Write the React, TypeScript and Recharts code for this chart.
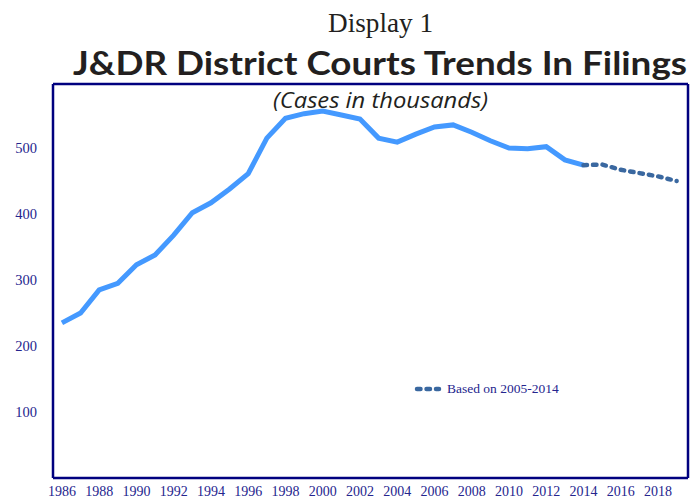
import React from 'react';
import { LineChart, Line, XAxis, YAxis, Legend } from 'recharts';

const years = [1986, 1987, 1988, 1989, 1990, 1991, 1992, 1993, 1994, 1995, 1996, 1997, 1998, 1999, 2000, 2001, 2002, 2003, 2004, 2005, 2006, 2007, 2008, 2009, 2010, 2011, 2012, 2013, 2014, 2015, 2016, 2017, 2018, 2019];
const actualFilings = [235, 250, 285, 295, 323, 338, 368, 402, 417, 438, 461, 515, 545, 552, 556, 550, 544, 515, 509, 521, 532, 535, 524, 511, 500, 499, 502, 482, 474];
const projectedYears = [2014, 2015, 2016, 2017, 2018, 2019];
const projectedFilings = [474, 475, 467, 462, 457, 450];
const xTicks = [1986, 1988, 1990, 1992, 1994, 1996, 1998, 2000, 2002, 2004, 2006, 2008, 2010, 2012, 2014, 2016, 2018];
const yTicks = [100, 200, 300, 400, 500];

const data = years.map((year, i) => {
  const pi = projectedYears.indexOf(year);
  return {
    year,
    actual: i < actualFilings.length ? actualFilings[i] : null,
    projected: pi >= 0 ? projectedFilings[pi] : null,
  };
});

const NAVY = '#00007f';
const TICK = '#25258e';
const ACTUAL = '#4499ff';
const PROJ = '#3a68a0';
const X_DOMAIN: [number, number] = [1985.52, 2019.61];
const Y_DOMAIN: [number, number] = [0, 597];

const tickStyle = { fontFamily: '"Liberation Serif", "Times New Roman", serif', fill: TICK };

const LegendContent = () => (
  <div style={{ display: 'flex', alignItems: 'center', whiteSpace: 'nowrap' }}>
    <svg width={30} height={10} style={{ display: 'block' }}>
      <line x1={3} y1={5} x2={25} y2={5} stroke={PROJ} strokeWidth={4.5} strokeDasharray="3.5 6" strokeLinecap="round" />
    </svg>
    <span style={{ fontFamily: '"Liberation Serif", serif', fontSize: 13.5, color: TICK, marginLeft: 3 }}>Based on 2005-2014</span>
  </div>
);

export default function App() {
  return (
    <div style={{ position: 'absolute', left: 0, top: 0, width: 695, height: 499, background: '#fff' }}>
      <LineChart width={695} height={499} data={data} margin={{ top: 0, right: 0, bottom: 0, left: 0 }}>
        <XAxis
          dataKey="year"
          type="number"
          domain={X_DOMAIN}
          ticks={xTicks}
          interval={0}
          height={21}
          tickSize={0}
          tickMargin={8}
          tick={{ ...tickStyle, fontSize: 14 }}
          axisLine={{ stroke: NAVY, strokeWidth: 2.5 }}
          allowDataOverflow
        />
        <XAxis
          xAxisId="top"
          orientation="top"
          dataKey="year"
          type="number"
          domain={X_DOMAIN}
          height={84}
          tick={false}
          tickLine={false}
          axisLine={{ stroke: NAVY, strokeWidth: 2.5 }}
          allowDataOverflow
        />
        <YAxis
          type="number"
          domain={Y_DOMAIN}
          ticks={yTicks}
          width={53}
          tickSize={0}
          tickMargin={16}
          tick={{ ...tickStyle, fontSize: 14.5 }}
          axisLine={{ stroke: NAVY, strokeWidth: 2.5 }}
          allowDataOverflow
        />
        <YAxis
          yAxisId="right"
          orientation="right"
          type="number"
          domain={Y_DOMAIN}
          width={7}
          tick={false}
          tickLine={false}
          axisLine={{ stroke: NAVY, strokeWidth: 2.5 }}
          allowDataOverflow
        />
        <Legend
          layout="vertical"
          align="center"
          verticalAlign="middle"
          content={<LegendContent />}
          wrapperStyle={{ left: 414, top: 381, width: 200, height: 14 }}
        />
        <Line
          dataKey="actual"
          stroke={ACTUAL}
          strokeWidth={5}
          dot={false}
          activeDot={false}
          connectNulls={false}
          isAnimationActive={false}
          legendType="none"
        />
        <Line
          dataKey="projected"
          stroke={PROJ}
          strokeWidth={4.5}
          strokeDasharray="3.5 6"
          strokeLinecap="round"
          dot={false}
          activeDot={false}
          connectNulls={false}
          isAnimationActive={false}
        />
      </LineChart>
      <svg width={695} height={120} style={{ position: 'absolute', left: 0, top: 0, pointerEvents: 'none' }}>
        <text x={328} y={32} fontFamily='"Liberation Serif", serif' fontSize={28} fill="#231f20" textLength={105} lengthAdjust="spacingAndGlyphs">Display 1</text>
        <text x={73} y={75} fontFamily="Lato, 'Open Sans', sans-serif" fontWeight={700} fontSize={33} fill="#231f20" textLength={614} lengthAdjust="spacingAndGlyphs">J&amp;DR District Courts Trends In Filings</text>
        <text x={273} y={108} fontFamily="'Open Sans', Lato, sans-serif" fontStyle="italic" fontSize={22} fill="#231f20" textLength={215} lengthAdjust="spacingAndGlyphs">(Cases in thousands)</text>
      </svg>
    </div>
  );
}
